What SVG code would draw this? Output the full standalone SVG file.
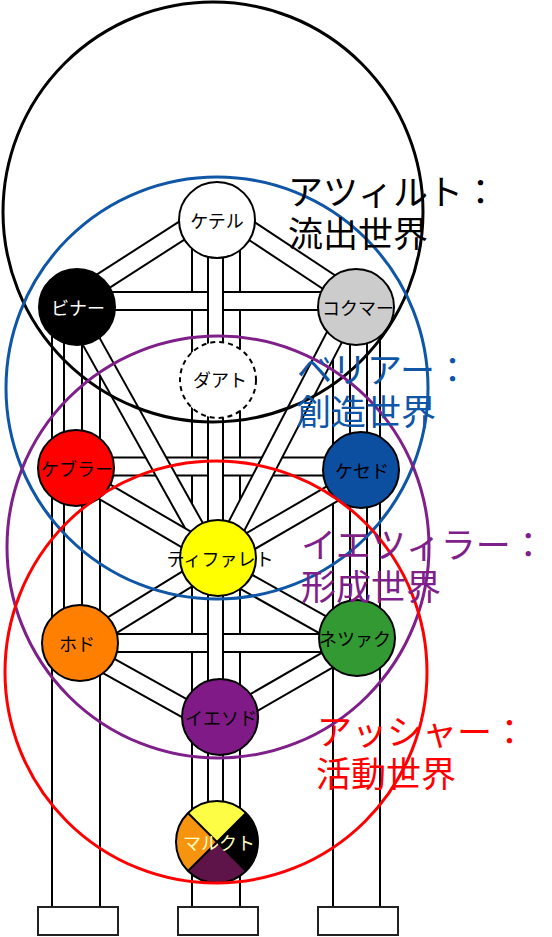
<svg xmlns="http://www.w3.org/2000/svg" width="552" height="937" viewBox="0 0 552 937">
<style>
.bk{stroke:#000;fill:none;stroke-linecap:butt}
.wh{stroke:#fff;fill:none;stroke-linecap:butt}
.nb{stroke-width:20}
.nw{stroke-width:16}
.node{stroke:#000;stroke-width:2}
.lbl{font-family:"Noto Sans CJK JP","Noto Sans",sans-serif;font-size:18px;text-anchor:middle}
.world{fill:none;stroke-width:3}
.wt{font-family:"Noto Sans CJK JP","Noto Sans",sans-serif;font-size:35px}
.base{fill:#fff;stroke:#222;stroke-width:2}
</style>
<rect width="552" height="937" fill="#fff"/>
<g id="connectors">
  <line class="bk" stroke-width="50" x1="76" y1="307" x2="76" y2="908"/>
  <line class="wh" stroke-width="46" x1="76" y1="307" x2="76" y2="908"/>
  <line class="bk" stroke-width="50" x1="216" y1="220" x2="216" y2="908"/>
  <line class="wh" stroke-width="46" x1="216" y1="220" x2="216" y2="908"/>
  <line class="bk" stroke-width="49" x1="356.5" y1="307" x2="356.5" y2="908"/>
  <line class="wh" stroke-width="45" x1="356.5" y1="307" x2="356.5" y2="908"/>
  <line class="bk nb" x1="77" y1="301" x2="356" y2="301"/>
  <line class="wh nw" x1="77" y1="301" x2="356" y2="301"/>
  <line class="bk nb" x1="76" y1="466.5" x2="361" y2="466.5"/>
  <line class="wh nw" x1="76" y1="466.5" x2="361" y2="466.5"/>
  <line class="bk nb" x1="80" y1="643" x2="357" y2="643"/>
  <line class="wh nw" x1="80" y1="643" x2="357" y2="643"/>
  <line class="bk nb" x1="217" y1="208" x2="77" y2="298"/>
  <line class="wh nw" x1="217" y1="208" x2="77" y2="298"/>
  <line class="bk nb" x1="217" y1="208" x2="356" y2="300"/>
  <line class="wh nw" x1="217" y1="208" x2="356" y2="300"/>
  <line class="bk nb" x1="72" y1="307" x2="212" y2="558"/>
  <line class="wh nw" x1="72" y1="307" x2="212" y2="558"/>
  <line class="bk nb" x1="350" y1="307" x2="220" y2="558"/>
  <line class="wh nw" x1="350" y1="307" x2="220" y2="558"/>
  <line class="bk nb" x1="76" y1="475" x2="218" y2="558"/>
  <line class="wh nw" x1="76" y1="475" x2="218" y2="558"/>
  <line class="bk nb" x1="361" y1="477" x2="218" y2="560"/>
  <line class="wh nw" x1="361" y1="477" x2="218" y2="560"/>
  <line class="bk nb" x1="80" y1="645" x2="218" y2="560"/>
  <line class="wh nw" x1="80" y1="645" x2="218" y2="560"/>
  <line class="bk nb" x1="357" y1="644" x2="218" y2="566"/>
  <line class="wh nw" x1="357" y1="644" x2="218" y2="566"/>
  <line class="bk nb" x1="80" y1="650" x2="220" y2="728"/>
  <line class="wh nw" x1="80" y1="650" x2="220" y2="728"/>
  <line class="bk nb" x1="357" y1="643" x2="220" y2="722"/>
  <line class="wh nw" x1="357" y1="643" x2="220" y2="722"/>
  <line class="bk" stroke-width="20" x1="73" y1="307" x2="73" y2="643"/>
  <line class="wh" stroke-width="16" x1="73" y1="307" x2="73" y2="643"/>
  <line class="bk" stroke-width="17" x1="215.5" y1="220" x2="215.5" y2="842"/>
  <line class="wh" stroke-width="13" x1="215.5" y1="220" x2="215.5" y2="842"/>
  <line class="bk" stroke-width="19" x1="358.5" y1="307" x2="358.5" y2="638"/>
  <line class="wh" stroke-width="15" x1="358.5" y1="307" x2="358.5" y2="638"/>
</g>
<g id="bases">
  <rect class="base" x="38" y="907" width="80" height="28"/>
  <rect class="base" x="178" y="907" width="80" height="28"/>
  <rect class="base" x="318" y="907" width="80" height="28"/>
</g>
<g id="kether"><circle class="node" cx="217" cy="220" r="38" fill="#fff"/><text class="lbl" x="217" y="228">ケテル</text></g>
<g id="binah"><circle class="node" cx="77" cy="307" r="38" fill="#000"/><text class="lbl" x="78" y="315" fill="#fff">ビナー</text></g>
<g id="chokmah"><circle class="node" cx="356" cy="307" r="38" fill="#ccc"/><text class="lbl" x="358" y="315">コクマー</text></g>
<g id="daath"><circle cx="218" cy="380" r="38" fill="#fff" stroke="#000" stroke-width="2" stroke-dasharray="5 4"/><text class="lbl" x="220" y="387">ダアト</text></g>
<g id="geburah"><circle class="node" cx="76" cy="468" r="38" fill="#ff0000"/><text class="lbl" x="77" y="476">ケブラー</text></g>
<g id="chesed"><circle class="node" cx="361" cy="470" r="38" fill="#0c4ea0"/><text class="lbl" x="362" y="478">ケセド</text></g>
<g id="tiphareth"><circle class="node" cx="218" cy="558" r="38" fill="#ffff00"/><text class="lbl" x="220" y="566">ティファレト</text></g>
<g id="hod"><circle class="node" cx="80" cy="643" r="38" fill="#ff8000"/><text class="lbl" x="77" y="651">ホド</text></g>
<g id="netzach"><circle class="node" cx="357" cy="638" r="38" fill="#339933"/><text class="lbl" x="355" y="646">ネツァク</text></g>
<g id="yesod"><circle class="node" cx="220" cy="717" r="38" fill="#801a86"/><text class="lbl" x="221" y="725">イエソド</text></g>
<g id="malkuth">
  <path d="M217 842 L188 813 A41 41 0 0 1 246 813 Z" fill="#fdfd45"/>
  <path d="M217 842 L246 813 A41 41 0 0 1 246 871 Z" fill="#000"/>
  <path d="M217 842 L246 871 A41 41 0 0 1 188 871 Z" fill="#5e1449"/>
  <path d="M217 842 L188 871 A41 41 0 0 1 188 813 Z" fill="#f7940f"/>
  <line x1="188" y1="813" x2="246" y2="871" stroke="#000" stroke-width="2"/>
  <line x1="246" y1="813" x2="188" y2="871" stroke="#000" stroke-width="2"/>
  <circle cx="217" cy="842" r="41" fill="none" stroke="#000" stroke-width="2"/>
  <text class="lbl" x="219" y="850" fill="#ffffc0">マルクト</text>
</g>
<g id="worlds">
  <circle class="world" cx="213" cy="212" r="210" stroke="#000"/>
  <circle class="world" cx="217" cy="388" r="211" stroke="#0f56a6"/>
  <circle class="world" cx="218" cy="547" r="211" stroke="#7f1f8a"/>
  <circle class="world" cx="216" cy="672" r="211" stroke="#ff0000"/>
</g>
<g id="world-labels">
  <text class="wt" fill="#000"><tspan x="288" y="205">アツィルト：</tspan><tspan x="288" y="247">流出世界</tspan></text>
  <text class="wt" fill="#0f56a6"><tspan x="297" y="383">ベリアー：</tspan><tspan x="296" y="425">創造世界</tspan></text>
  <text class="wt" fill="#7f1f8a"><tspan x="301" y="558">イエツィラー：</tspan><tspan x="301" y="600">形成世界</tspan></text>
  <text class="wt" fill="#ff0000"><tspan x="317" y="745">アッシャー：</tspan><tspan x="316" y="787">活動世界</tspan></text>
</g>
</svg>
